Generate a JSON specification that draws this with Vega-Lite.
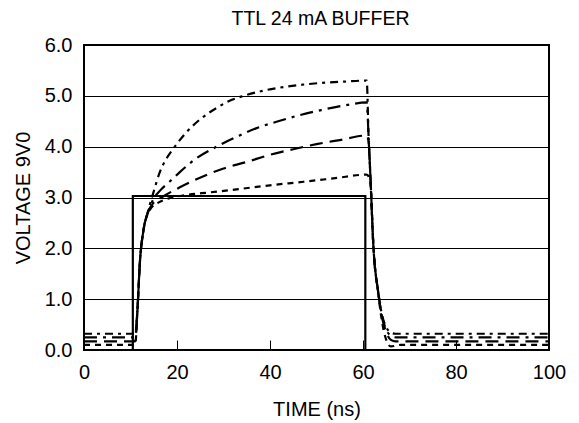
{
  "$schema": "https://vega.github.io/schema/vega-lite/v6.json",
  "width": 465,
  "height": 305,
  "autosize": {"type": "none"},
  "padding": {"left": 84, "top": 45, "right": 30, "bottom": 73},
  "background": "white",
  "config": {
    "font": "Liberation Sans",
    "view": {"stroke": "black", "strokeWidth": 2},
    "title": {"font": "Liberation Sans", "fontSize": 19.5, "fontWeight": "normal", "color": "black"},
    "axis": {"labelFont": "Liberation Sans", "titleFont": "Liberation Sans", "labelColor": "black", "titleColor": "black", "titleFontWeight": "normal", "labelFontSize": 20, "titleFontSize": 20, "domain": false}
  },
  "title": {"text": "TTL 24 mA BUFFER", "offset": 6, "dx": 4},
  "data": {"values": [
    {"s": "pulse", "i": 0, "t": 0, "v": 0},
    {"s": "pulse", "i": 1, "t": 10.5, "v": 0},
    {"s": "pulse", "i": 2, "t": 10.5, "v": 3.03},
    {"s": "pulse", "i": 3, "t": 60.5, "v": 3.03},
    {"s": "pulse", "i": 4, "t": 60.5, "v": 0},
    {"s": "pulse", "i": 5, "t": 100, "v": 0},

    {"s": "A", "i": 0, "t": 0, "v": 0.32},
    {"s": "A", "i": 1, "t": 11, "v": 0.32},
    {"s": "A", "i": 2, "t": 11.5, "v": 0.8},
    {"s": "A", "i": 3, "t": 12, "v": 1.7},
    {"s": "A", "i": 4, "t": 12.8, "v": 2.36},
    {"s": "A", "i": 5, "t": 13.8, "v": 2.74},
    {"s": "A", "i": 6, "t": 15, "v": 3.12},
    {"s": "A", "i": 7, "t": 16.3, "v": 3.5},
    {"s": "A", "i": 8, "t": 17.7, "v": 3.76},
    {"s": "A", "i": 9, "t": 19.2, "v": 3.96},
    {"s": "A", "i": 10, "t": 22, "v": 4.28},
    {"s": "A", "i": 11, "t": 25, "v": 4.54},
    {"s": "A", "i": 12, "t": 28.5, "v": 4.76},
    {"s": "A", "i": 13, "t": 31, "v": 4.89},
    {"s": "A", "i": 14, "t": 34.3, "v": 5.0},
    {"s": "A", "i": 15, "t": 38, "v": 5.09},
    {"s": "A", "i": 16, "t": 42, "v": 5.16},
    {"s": "A", "i": 17, "t": 47, "v": 5.22},
    {"s": "A", "i": 18, "t": 52, "v": 5.26},
    {"s": "A", "i": 19, "t": 56, "v": 5.28},
    {"s": "A", "i": 20, "t": 60.8, "v": 5.3},
    {"s": "A", "i": 21, "t": 61.2, "v": 4.2},
    {"s": "A", "i": 22, "t": 61.6, "v": 3.4},
    {"s": "A", "i": 23, "t": 62.2, "v": 2.1},
    {"s": "A", "i": 24, "t": 63.3, "v": 1.12},
    {"s": "A", "i": 25, "t": 64.2, "v": 0.65},
    {"s": "A", "i": 26, "t": 65, "v": 0.45},
    {"s": "A", "i": 27, "t": 66, "v": 0.34},
    {"s": "A", "i": 28, "t": 67, "v": 0.32},
    {"s": "A", "i": 29, "t": 100, "v": 0.32},

    {"s": "B", "i": 0, "t": 0, "v": 0.25},
    {"s": "B", "i": 1, "t": 11, "v": 0.25},
    {"s": "B", "i": 2, "t": 11.5, "v": 0.8},
    {"s": "B", "i": 3, "t": 12, "v": 1.7},
    {"s": "B", "i": 4, "t": 12.8, "v": 2.36},
    {"s": "B", "i": 5, "t": 13.8, "v": 2.72},
    {"s": "B", "i": 6, "t": 15, "v": 2.98},
    {"s": "B", "i": 7, "t": 16.5, "v": 3.15},
    {"s": "B", "i": 8, "t": 18.5, "v": 3.32},
    {"s": "B", "i": 9, "t": 20.6, "v": 3.5},
    {"s": "B", "i": 10, "t": 24, "v": 3.76},
    {"s": "B", "i": 11, "t": 28.5, "v": 4.0},
    {"s": "B", "i": 12, "t": 33, "v": 4.2},
    {"s": "B", "i": 13, "t": 37, "v": 4.36},
    {"s": "B", "i": 14, "t": 41.4, "v": 4.49},
    {"s": "B", "i": 15, "t": 46, "v": 4.61},
    {"s": "B", "i": 16, "t": 51, "v": 4.72},
    {"s": "B", "i": 17, "t": 56, "v": 4.81},
    {"s": "B", "i": 18, "t": 60.8, "v": 4.87},
    {"s": "B", "i": 19, "t": 61.2, "v": 4.2},
    {"s": "B", "i": 20, "t": 61.6, "v": 3.4},
    {"s": "B", "i": 21, "t": 62.2, "v": 2.1},
    {"s": "B", "i": 22, "t": 63.3, "v": 1.12},
    {"s": "B", "i": 23, "t": 64.2, "v": 0.62},
    {"s": "B", "i": 24, "t": 65, "v": 0.4},
    {"s": "B", "i": 25, "t": 66, "v": 0.28},
    {"s": "B", "i": 26, "t": 67, "v": 0.25},
    {"s": "B", "i": 27, "t": 100, "v": 0.25},

    {"s": "C", "i": 0, "t": 0, "v": 0.17},
    {"s": "C", "i": 1, "t": 11, "v": 0.17},
    {"s": "C", "i": 2, "t": 11.5, "v": 0.8},
    {"s": "C", "i": 3, "t": 12, "v": 1.7},
    {"s": "C", "i": 4, "t": 12.8, "v": 2.36},
    {"s": "C", "i": 5, "t": 13.8, "v": 2.72},
    {"s": "C", "i": 6, "t": 15, "v": 2.9},
    {"s": "C", "i": 7, "t": 17, "v": 3.02},
    {"s": "C", "i": 8, "t": 20.6, "v": 3.2},
    {"s": "C", "i": 9, "t": 25.7, "v": 3.42},
    {"s": "C", "i": 10, "t": 30, "v": 3.57},
    {"s": "C", "i": 11, "t": 35, "v": 3.7},
    {"s": "C", "i": 12, "t": 40, "v": 3.84},
    {"s": "C", "i": 13, "t": 45, "v": 3.95},
    {"s": "C", "i": 14, "t": 50, "v": 4.05},
    {"s": "C", "i": 15, "t": 55, "v": 4.13},
    {"s": "C", "i": 16, "t": 60.8, "v": 4.22},
    {"s": "C", "i": 17, "t": 61.2, "v": 4.1},
    {"s": "C", "i": 18, "t": 61.6, "v": 3.4},
    {"s": "C", "i": 19, "t": 62.2, "v": 2.1},
    {"s": "C", "i": 20, "t": 63.3, "v": 1.12},
    {"s": "C", "i": 21, "t": 64.2, "v": 0.6},
    {"s": "C", "i": 22, "t": 65, "v": 0.35},
    {"s": "C", "i": 23, "t": 66, "v": 0.2},
    {"s": "C", "i": 24, "t": 67, "v": 0.17},
    {"s": "C", "i": 25, "t": 100, "v": 0.17},

    {"s": "D", "i": 0, "t": 0, "v": 0.1},
    {"s": "D", "i": 1, "t": 11, "v": 0.1},
    {"s": "D", "i": 2, "t": 11.5, "v": 0.8},
    {"s": "D", "i": 3, "t": 12, "v": 1.7},
    {"s": "D", "i": 4, "t": 12.8, "v": 2.36},
    {"s": "D", "i": 5, "t": 13.8, "v": 2.7},
    {"s": "D", "i": 6, "t": 14.5, "v": 2.8},
    {"s": "D", "i": 7, "t": 16, "v": 2.9},
    {"s": "D", "i": 8, "t": 18.5, "v": 2.99},
    {"s": "D", "i": 9, "t": 22, "v": 3.05},
    {"s": "D", "i": 10, "t": 27, "v": 3.1},
    {"s": "D", "i": 11, "t": 32.8, "v": 3.16},
    {"s": "D", "i": 12, "t": 40, "v": 3.24},
    {"s": "D", "i": 13, "t": 47.2, "v": 3.31},
    {"s": "D", "i": 14, "t": 54, "v": 3.38},
    {"s": "D", "i": 15, "t": 60.8, "v": 3.45},
    {"s": "D", "i": 16, "t": 61.6, "v": 3.3},
    {"s": "D", "i": 17, "t": 62.2, "v": 2.1},
    {"s": "D", "i": 18, "t": 63.3, "v": 1.1},
    {"s": "D", "i": 19, "t": 64.2, "v": 0.5},
    {"s": "D", "i": 20, "t": 65, "v": 0.2},
    {"s": "D", "i": 21, "t": 66, "v": 0.07},
    {"s": "D", "i": 22, "t": 68, "v": 0.1},
    {"s": "D", "i": 23, "t": 100, "v": 0.1}
  ]},
  "encoding": {
    "x": {"field": "t", "type": "quantitative", "title": "TIME (ns)",
      "scale": {"domain": [0, 100], "nice": false},
      "axis": {"values": [0, 20, 40, 60, 80, 100], "grid": false, "tickSize": -10, "tickColor": "black", "tickWidth": 1, "labelPadding": 22, "titlePadding": 17, "labelFlush": false}},
    "y": {"field": "v", "type": "quantitative", "title": "VOLTAGE 9V0",
      "scale": {"domain": [0, 6], "nice": false},
      "axis": {"values": [0, 1, 2, 3, 4, 5, 6], "format": ".1f", "ticks": false, "grid": true, "gridColor": "black", "gridWidth": 1, "gridOpacity": 1, "labelPadding": 12, "titlePadding": 11}},
    "strokeDash": {"field": "s", "type": "nominal", "legend": null,
      "scale": {"domain": ["pulse", "A", "B", "C", "D"], "range": [[1, 0], [8, 5, 3, 5], [13, 6, 3, 6], [13, 7], [6, 5]]}},
    "order": {"field": "i", "type": "quantitative"}
  },
  "layer": [
    {"transform": [{"filter": "datum.s === 'pulse'"}],
     "mark": {"type": "line", "color": "black", "strokeWidth": 2.2, "clip": true}},
    {"transform": [{"filter": "datum.s !== 'pulse'"}],
     "mark": {"type": "line", "color": "black", "strokeWidth": 2.2, "clip": true, "interpolate": "monotone"}}
  ]
}
